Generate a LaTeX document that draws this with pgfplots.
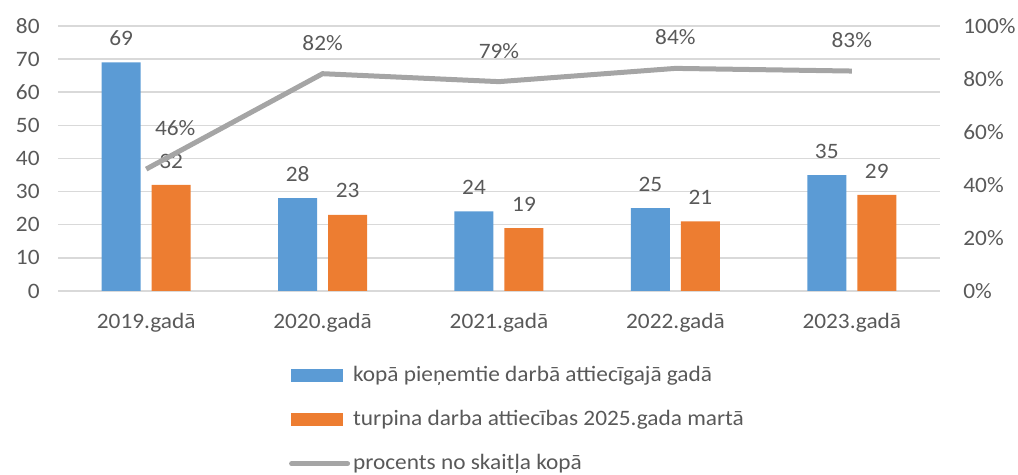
\documentclass[border=0pt]{standalone}
\usepackage{pgfplots}
\pgfplotsset{compat=1.18}
\usepackage{fontspec}
\setmainfont{Carlito}[FakeStretch=1.06]
\definecolor{cblue}{HTML}{5B9BD5}
\definecolor{corange}{HTML}{ED7D31}
\definecolor{cgray}{HTML}{A5A5A5}
\definecolor{ctext}{HTML}{595959}
\definecolor{cgrid}{HTML}{D9D9D9}
\begin{document}
\begin{tikzpicture}[font=\fontsize{11}{13}\selectfont]
\pgfplotsset{
  base/.style={scale only axis, width=441pt, height=132.5pt, at={(29pt,92pt)}, anchor=south west,
    xmin=-0.5, xmax=4.5, axis line style={draw=none}, major tick style={draw=none}, minor tick style={draw=none},
    ticklabel style={text=ctext, font=\fontsize{11}{13}\selectfont},
    /pgf/number format/assume math mode=true, clip=false}
}
\begin{axis}[base, ymin=0, ymax=80, ytick={0,10,...,80}, ymajorgrids,
  grid style={cgrid, line width=0.75pt},
  xtick={0,1,2,3,4}, xticklabels={2019.gadā,2020.gadā,2021.gadā,2022.gadā,2023.gadā},
  yticklabel style={anchor=east, inner sep=0pt, xshift=-9pt},
  xticklabel style={anchor=center, inner sep=0pt, yshift=-16pt}]
\addplot[ybar, bar width=19.5pt, bar shift=-12.5pt, fill=cblue, draw=none, nodes near coords,
  nodes near coords style={text=ctext, anchor=center, xshift=-12.5pt, yshift=12pt, font=\fontsize{11}{13}\selectfont}]
  coordinates {(0,69) (1,28) (2,24) (3,25) (4,35)};
\addplot[ybar, bar width=19.5pt, bar shift=12.5pt, fill=corange, draw=none, nodes near coords,
  nodes near coords style={text=ctext, anchor=center, xshift=12.5pt, yshift=12pt, font=\fontsize{11}{13}\selectfont}]
  coordinates {(0,32) (1,23) (2,19) (3,21) (4,29)};
\end{axis}
\begin{axis}[base, ymin=0, ymax=100, ytick={0,20,...,100},
  axis y line*=right, axis x line=none,
  yticklabel={\pgfmathprintnumber{\tick}\%},
  yticklabel style={anchor=west, inner sep=0pt, xshift=11.5pt},
  legend style={at={(0.262,-0.268)}, anchor=north west, draw=none, fill=none, text=ctext,
    inner sep=0pt, outer sep=0pt, row sep=9pt, nodes={inner xsep=1.5pt}, font=\fontsize{11}{13}\selectfont},
  legend cell align=left]
\addlegendimage{legend image code/.code={\fill[cblue] (0pt,-3pt) rectangle (25.5pt,3pt);}}
\addlegendentry{kopā pieņemtie darbā attiecīgajā gadā}
\addlegendimage{legend image code/.code={\fill[corange] (0pt,-3pt) rectangle (25.5pt,3pt);}}
\addlegendentry{turpina darba attiecības 2025.gada martā}
\addlegendimage{legend image code/.code={\draw[cgray, line width=2.5pt, line cap=round] (0pt,0pt)--(28pt,0pt);}}
\addlegendentry{procents no skaitļa kopā}
\addplot[cgray, line width=2.5pt, forget plot] coordinates {(0,46) (1,82) (2,79) (3,84) (4,83)};
\addplot[draw=none, forget plot, nodes near coords={\pgfmathprintnumber{\pgfplotspointmeta}\%},
  nodes near coords style={text=ctext, anchor=center, yshift=15.5pt, font=\fontsize{11}{13}\selectfont}]
  coordinates {(1,82) (2,79) (3,84) (4,83)};
\addplot[draw=none, forget plot, nodes near coords={\pgfmathprintnumber{\pgfplotspointmeta}\%},
  nodes near coords style={text=ctext, anchor=center, xshift=14.5pt, yshift=20.5pt, font=\fontsize{11}{13}\selectfont}]
  coordinates {(0,46)};
\end{axis}
\pgfresetboundingbox
\path (0pt,0pt) rectangle (509pt,237.5pt);
\end{tikzpicture}
\end{document}
